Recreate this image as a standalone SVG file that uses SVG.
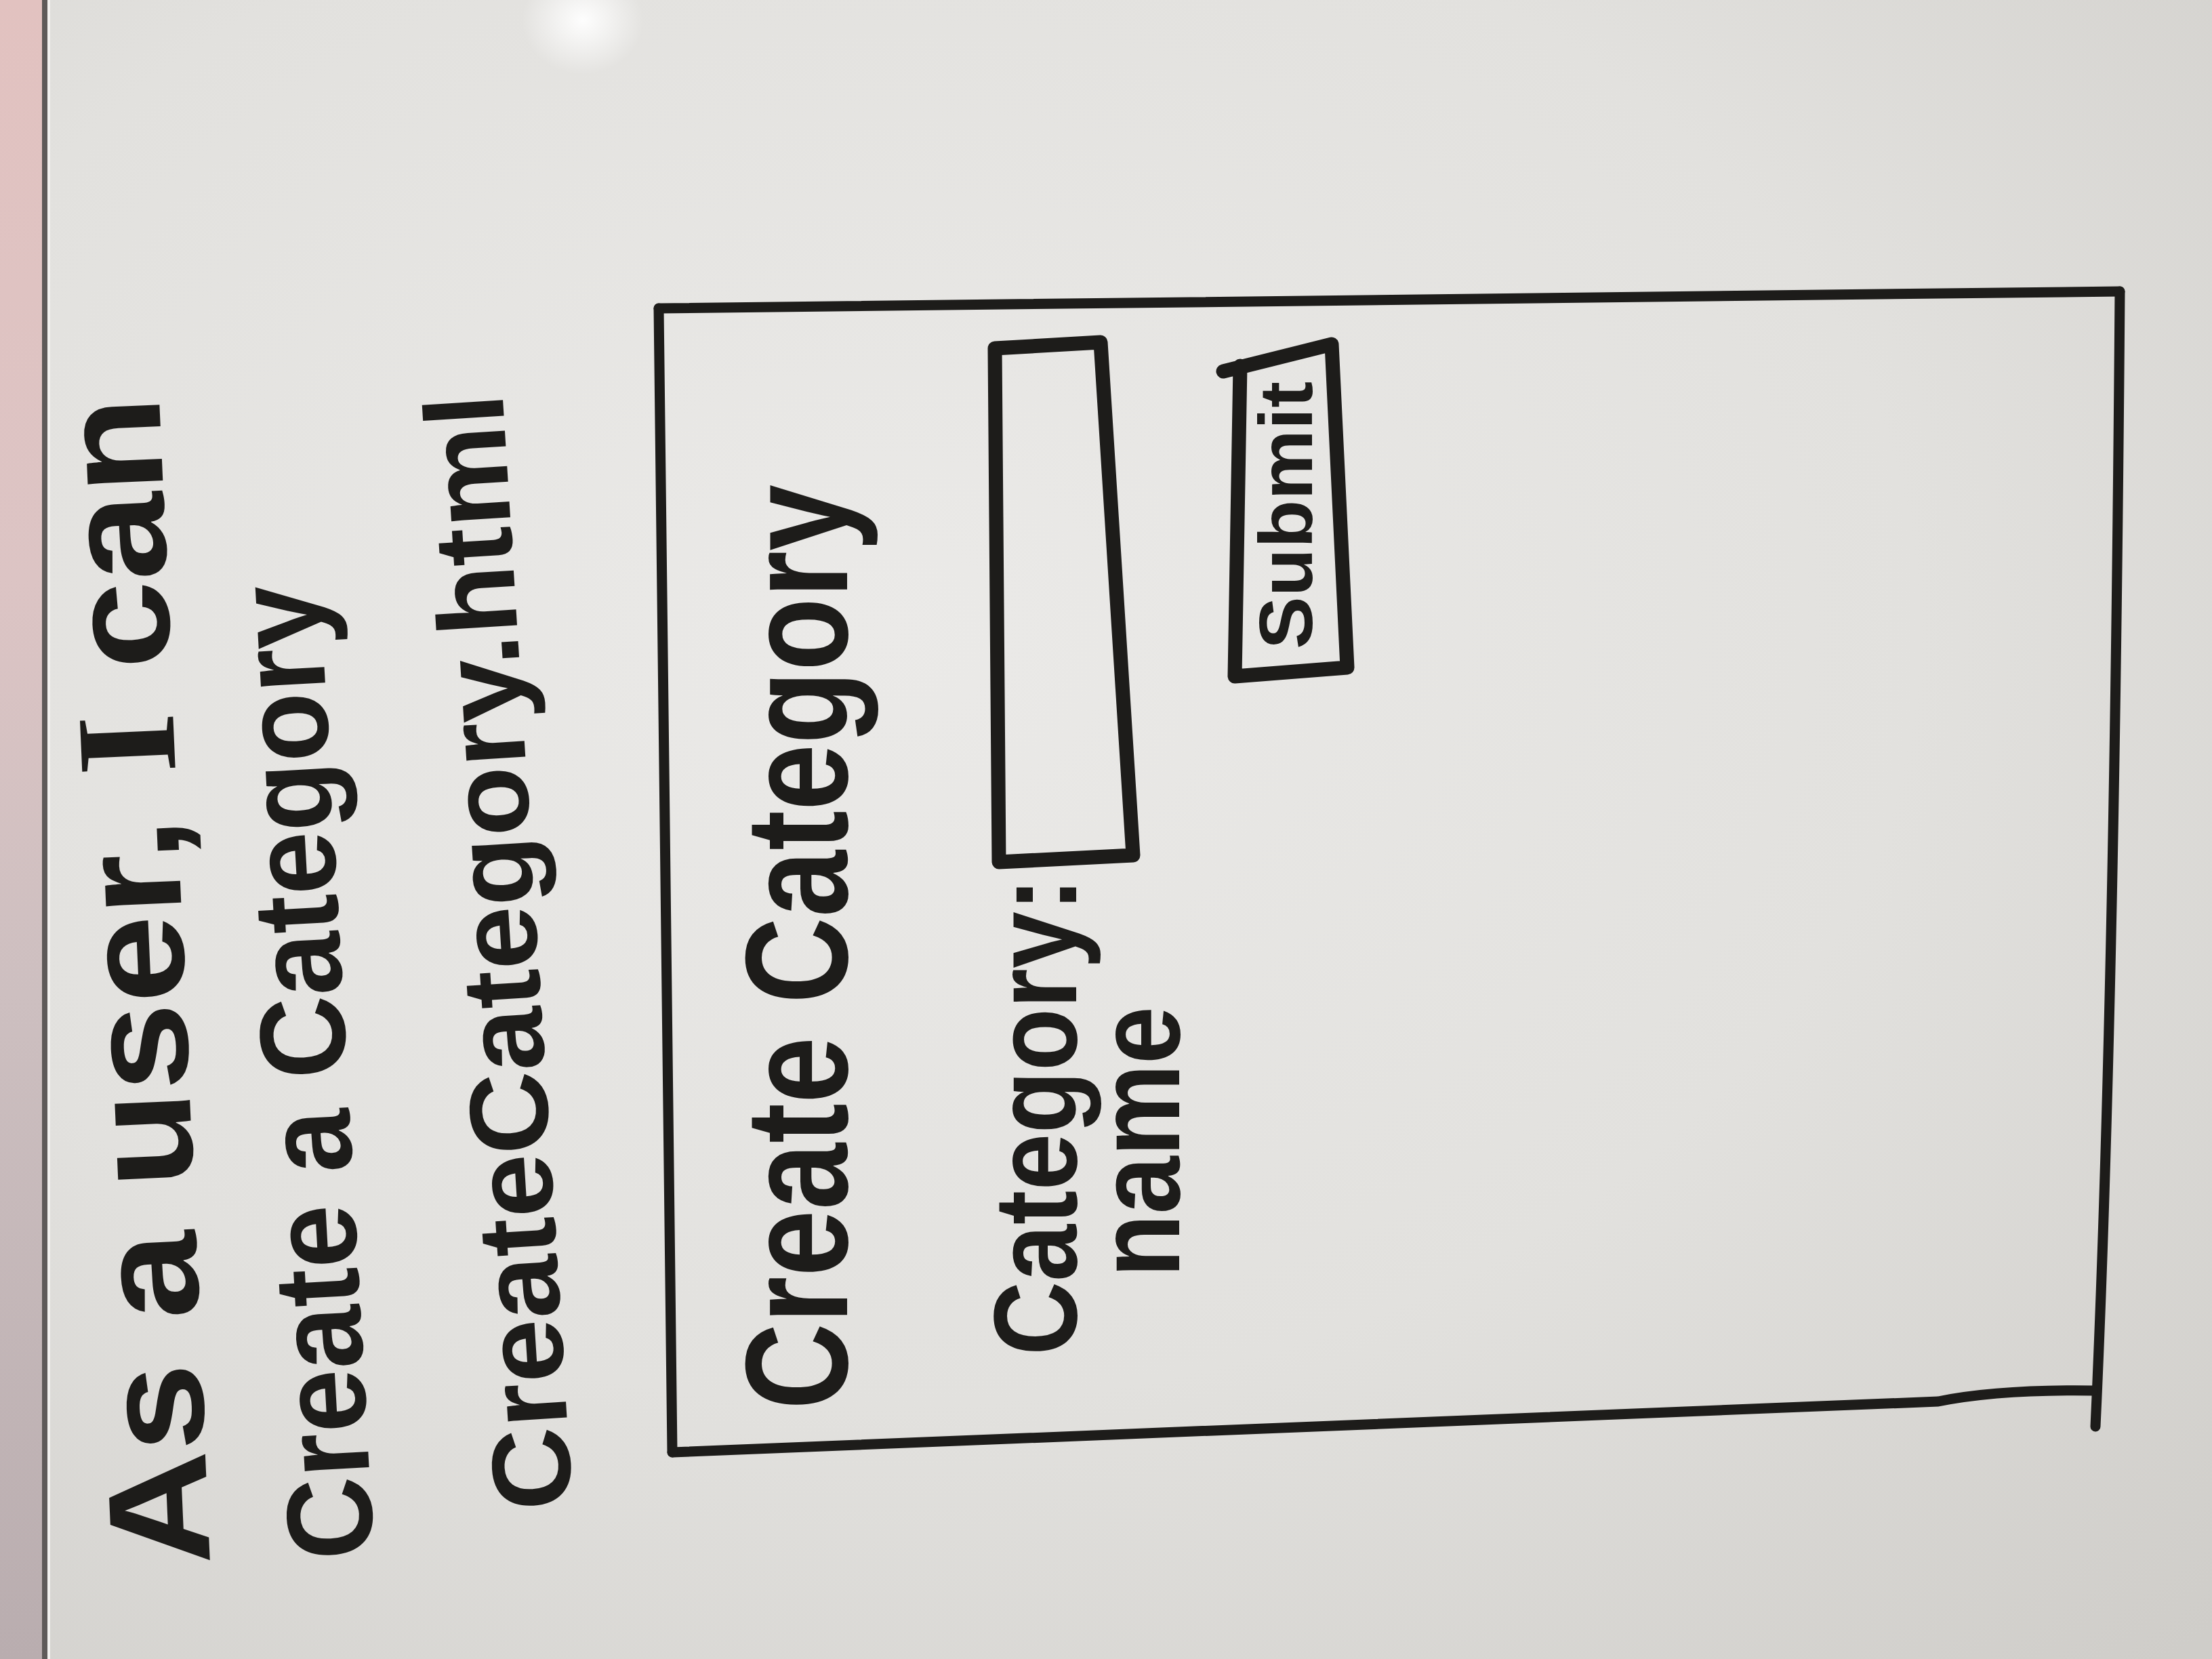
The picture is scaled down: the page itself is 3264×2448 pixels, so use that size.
<svg xmlns="http://www.w3.org/2000/svg" width="3264" height="2448" viewBox="0 0 3264 2448">
  <defs>
    <radialGradient id="board" cx="0.40" cy="0.38" r="0.85">
      <stop offset="0" stop-color="#ebeae8"/>
      <stop offset="0.55" stop-color="#e2e1de"/>
      <stop offset="1" stop-color="#cfcdc9"/>
    </radialGradient>
    <linearGradient id="rail" x1="0" y1="0" x2="0" y2="1">
      <stop offset="0" stop-color="#e2c2c0"/>
      <stop offset="0.35" stop-color="#dcc4c4"/>
      <stop offset="0.6" stop-color="#cdbfc0"/>
      <stop offset="1" stop-color="#b9adaf"/>
    </linearGradient>
    <radialGradient id="glare" cx="0.5" cy="0.5" r="0.5">
      <stop offset="0" stop-color="#ffffff" stop-opacity="0.95"/>
      <stop offset="1" stop-color="#ffffff" stop-opacity="0"/>
    </radialGradient>
    <style>
      .ink { fill: none; stroke: #1d1c1a; stroke-linecap: round; stroke-linejoin: round; }
      .thin { stroke-width: 15; }
      .thick { stroke-width: 21; }
      .hand { font-family: "Liberation Sans", "DejaVu Sans", sans-serif; font-weight: bold; fill: #1d1c1a; }
      .serif { font-family: "Liberation Serif", "DejaVu Serif", serif; }
    </style>
  </defs>

  <!-- whiteboard surface -->
  <rect x="0" y="0" width="3264" height="2448" fill="url(#board)"/>
  <ellipse cx="860" cy="30" rx="90" ry="80" fill="url(#glare)"/>

  <!-- aluminium rail on the left edge -->
  <g id="frame">
    <rect x="0" y="0" width="64" height="2448" fill="url(#rail)"/>
    <rect x="62" y="0" width="8" height="2448" fill="#5e5a59"/>
    <rect x="70" y="0" width="4" height="2448" fill="#f2f1ef"/>
  </g>

  <!-- user story, written sideways -->
  <g id="story">
    <text class="hand" font-size="210" textLength="1727" lengthAdjust="spacingAndGlyphs" transform="translate(310 2308) rotate(-92.5)">As a user, <tspan class="serif">I</tspan> can</text>
    <text class="hand" font-size="180" textLength="1440" lengthAdjust="spacingAndGlyphs" transform="translate(552 2298) rotate(-93.2)">Create a Category</text>
    <text class="hand" font-size="165" textLength="1650" lengthAdjust="spacingAndGlyphs" transform="translate(845 2225) rotate(-93.6)">CreateCategory.html</text>
  </g>

  <!-- page outline -->
  <g id="page">
    <path class="ink thin" d="M 972 455 L 3128 430"/>
    <path class="ink thin" d="M 3128 430 Q 3120 1500 3092 2105"/>
    <path class="ink thin" d="M 992 2143 L 2860 2068 Q 2950 2050 3088 2052"/>
    <path class="ink thin" d="M 972 455 L 992 2143"/>
  </g>

  <g id="title">
    <text class="hand" font-size="215" textLength="1365" lengthAdjust="spacingAndGlyphs" transform="translate(1250 2080) rotate(-90)">Create Category</text>
  </g>

  <g id="name-label">
    <text class="hand" font-size="175" textLength="705" lengthAdjust="spacingAndGlyphs" transform="translate(1588 2000) rotate(-90)">Category:</text>
    <text class="hand" font-size="175" textLength="400" lengthAdjust="spacingAndGlyphs" transform="translate(1740 1885) rotate(-90)">name</text>
  </g>

  <g id="name-input">
    <path class="ink thick" d="M 1468 514 L 1624 505 L 1672 1262 L 1474 1272 Z"/>
  </g>

  <g id="submit-button">
    <path class="ink thick" d="M 1805 548 L 1965 508 L 1988 985 L 1822 998 L 1830 540"/>
    <text class="hand" font-size="112" textLength="395" lengthAdjust="spacingAndGlyphs" transform="translate(1936 958) rotate(-90)">Submit</text>
  </g>
</svg>
